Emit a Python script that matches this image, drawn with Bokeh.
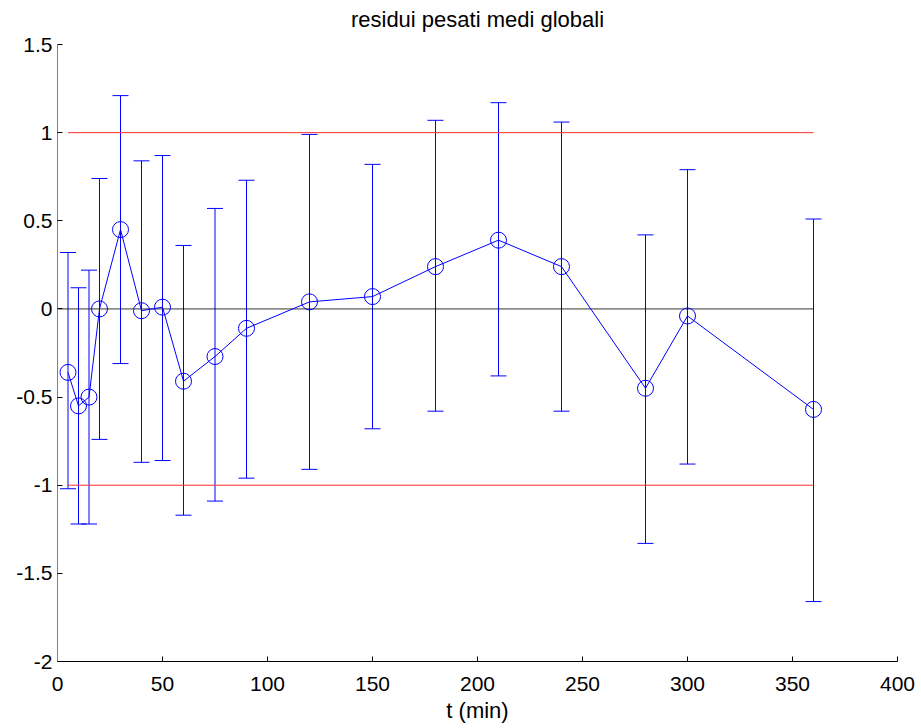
from bokeh.plotting import figure
from bokeh.models import (ColumnDataSource, Range1d, FixedTicker, Whisker, TeeHead, Title)
from bokeh.embed import file_html
from bokeh.resources import INLINE

# ---- data ----
t_min = [5, 10, 15, 20, 30, 40, 50, 60, 75, 90, 120, 150, 180, 210, 240, 280, 300, 360]
residual_mean = [-0.36, -0.55, -0.50, 0.00, 0.45, -0.01, 0.01, -0.41, -0.27, -0.11,
                 0.04, 0.07, 0.24, 0.39, 0.24, -0.45, -0.04, -0.57]
err_upper = [0.32, 0.12, 0.22, 0.74, 1.21, 0.84, 0.87, 0.36, 0.57, 0.73,
             0.99, 0.82, 1.07, 1.17, 1.06, 0.42, 0.79, 0.51]
err_lower = [-1.02, -1.22, -1.22, -0.74, -0.31, -0.87, -0.86, -1.17, -1.09, -0.96,
             -0.91, -0.68, -0.58, -0.38, -0.58, -1.33, -0.88, -1.66]
ref_x = [5, 360]
ref_upper = [1, 1]
ref_lower = [-1, -1]
zero_x = [0, 360]
zero_y = [0, 0]

x_ticks = [0, 50, 100, 150, 200, 250, 300, 350, 400]
x_tick_labels = ["0", "50", "100", "150", "200", "250", "300", "350", "400"]
y_ticks = [-2, -1.5, -1, -0.5, 0, 0.5, 1, 1.5]
y_tick_labels = ["-2", "-1.5", "-1", "-0.5", "0", "0.5", "1", "1.5"]

title_text = "residui pesati medi globali"
x_label = "t (min)"

FONT = "Liberation Sans"

src = ColumnDataSource(dict(t=t_min, y=residual_mean, upper=err_upper, lower=err_lower))

p = figure(width=921, height=728, output_backend="svg", toolbar_location=None,
           x_range=Range1d(0, 400), y_range=Range1d(-2, 1.5),
           min_border_left=57, min_border_right=24, min_border_top=40, min_border_bottom=67)

p.title.text = title_text
p.title.align = "center"
p.title.text_font = FONT
p.title.text_font_size = "22px"
p.title.text_font_style = "normal"
p.title.text_color = "black"
p.title.standoff = 8

# spacer between title and plot frame
p.add_layout(Title(text=" ", text_font_size="7px", standoff=0), "above")

p.outline_line_color = None
p.xgrid.visible = False
p.ygrid.visible = False
p.background_fill_color = "white"
p.border_fill_color = "white"

# axes
p.xaxis.ticker = FixedTicker(ticks=x_ticks)
p.xaxis.major_label_overrides = {k: v for k, v in zip(x_ticks, x_tick_labels)}
p.yaxis.ticker = FixedTicker(ticks=y_ticks)
p.yaxis.major_label_overrides = {k: v for k, v in zip(y_ticks, y_tick_labels)}
for ax in (p.xaxis, p.yaxis):
    ax.major_tick_in = 5
    ax.major_tick_out = 0
    ax.minor_tick_line_color = None
    ax.major_label_text_font = FONT
    ax.major_label_text_font_size = "21px"
    ax.major_label_text_color = "black"
    ax.major_tick_line_color = "black"
p.xaxis.axis_line_color = "black"
p.yaxis.axis_line_color = "#808080"
p.xaxis.major_label_standoff = 15
p.yaxis.major_label_standoff = 5
p.xaxis.axis_label = x_label
p.xaxis.axis_label_text_font = FONT
p.xaxis.axis_label_text_font_size = "22px"
p.xaxis.axis_label_text_font_style = "normal"
p.xaxis.axis_label_text_color = "black"
p.xaxis.axis_label_standoff = 4

# reference lines
p.line(ref_x, ref_upper, line_color="#ff3030", line_width=1)
p.line(ref_x, ref_lower, line_color="#ff3030", line_width=1)
p.line(zero_x, zero_y, line_color="black", line_width=1, line_alpha=0.8)

# error bars
whisk = Whisker(source=src, base="t", upper="upper", lower="lower",
                line_color="blue", line_width=1,
                upper_head=TeeHead(size=16, line_color="blue", line_width=1),
                lower_head=TeeHead(size=16, line_color="blue", line_width=1))
p.add_layout(whisk)

# mean line and markers
p.line("t", "y", source=src, line_color="blue", line_width=1)
p.scatter("t", "y", source=src, marker="circle", size=16, fill_color=None,
          line_color="blue", line_width=1)

open("out.html", "w").write(file_html(p, INLINE))
